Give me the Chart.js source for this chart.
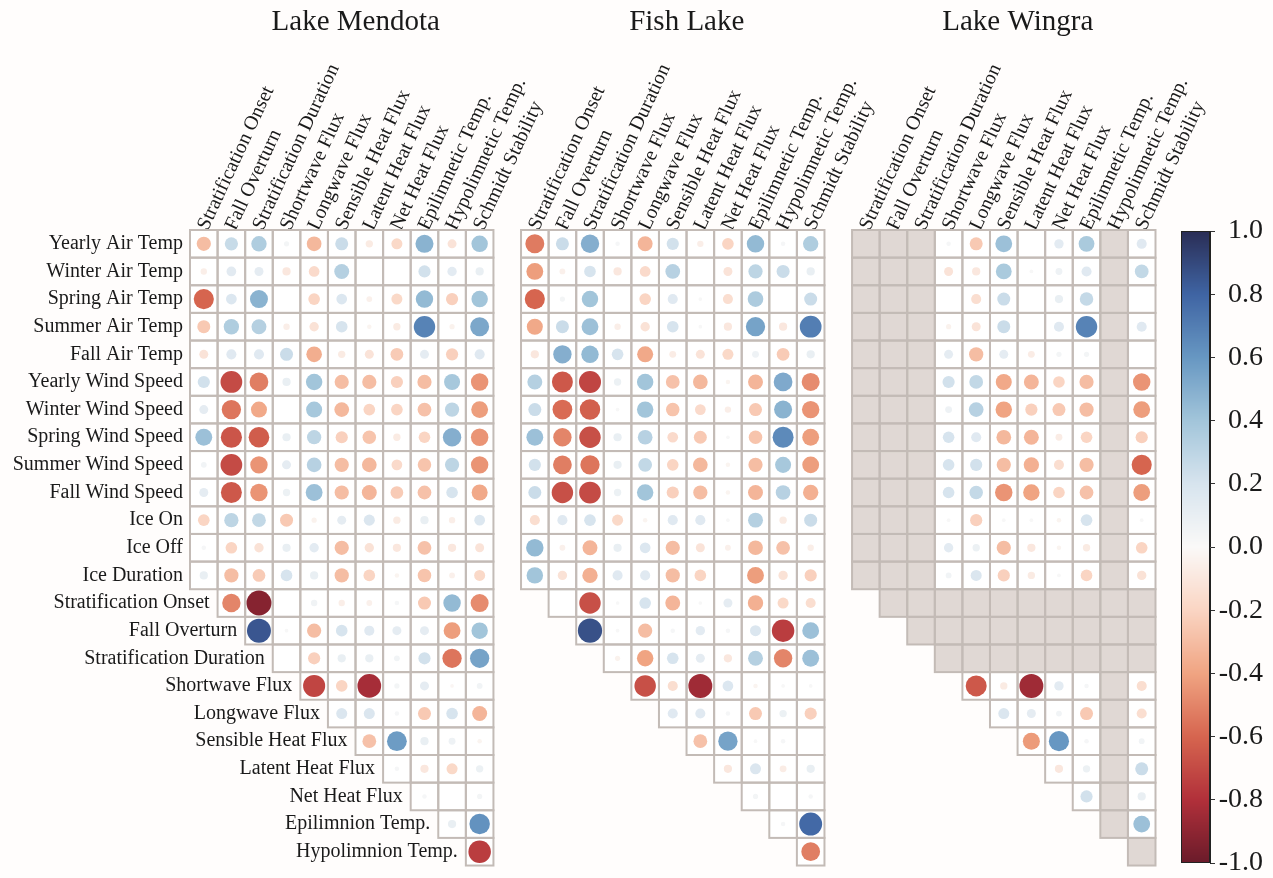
<!DOCTYPE html>
<html lang="en">
<head>
  <meta charset="UTF-8">
  <title>Lake correlation matrices</title>
  <script src="https://cdn.jsdelivr.net/npm/chart.js"></script>
  <style>
    html, body { margin: 0; padding: 0; background: #fffdfc; }
    #wrap { position: relative; width: 1273px; height: 878px; }
    #matrix { position: absolute; left: 0; top: 0; }
    #cbar { position: absolute; left: 1160px; top: 0; }
  </style>
</head>
<body>
  <div id="wrap">
    <canvas id="matrix" width="1273" height="878"></canvas>
    <canvas id="cbar" width="113" height="878"></canvas>
  </div>
  <script>
    const NA = 'NA'; // grey cell (no data for that lake)

    const lakeNames = ['Lake Mendota', 'Fish Lake', 'Lake Wingra'];
    const colLabels = ['Stratification Onset', 'Fall Overturn', 'Stratification Duration', 'Shortwave Flux',
      'Longwave Flux', 'Sensible Heat Flux', 'Latent Heat Flux', 'Net Heat Flux', 'Epilimnetic Temp.',
      'Hypolimnetic Temp.', 'Schmidt Stability'];
    const climateRows = ['Yearly Air Temp', 'Winter Air Temp', 'Spring Air Temp', 'Summer Air Temp', 'Fall Air Temp',
      'Yearly Wind Speed', 'Winter Wind Speed', 'Spring Wind Speed', 'Summer Wind Speed', 'Fall Wind Speed',
      'Ice On', 'Ice Off', 'Ice Duration'];
    const lakeRows = ['Stratification Onset', 'Fall Overturn', 'Stratification Duration', 'Shortwave Flux',
      'Longwave Flux', 'Sensible Heat Flux', 'Latent Heat Flux', 'Net Heat Flux', 'Epilimnion Temp.',
      'Hypolimnion Temp.'];

    // climate rows: all 11 columns; lake rows: only columns to the right of the diagonal
    const mendotaClimate = [
      [-0.30, 0.26, 0.35, 0.04, -0.32, 0.25, -0.08, -0.18, 0.48, -0.12, 0.40],
      [-0.06, 0.14, 0.12, -0.10, -0.17, 0.33, null, null, 0.22, 0.13, 0.10],
      [-0.60, 0.17, 0.48, null, -0.20, 0.17, -0.05, -0.18, 0.45, -0.22, 0.40],
      [-0.25, 0.35, 0.33, -0.06, -0.13, 0.20, -0.03, -0.08, 0.68, -0.04, 0.53],
      [-0.12, 0.15, 0.15, 0.25, -0.36, -0.08, -0.12, -0.24, 0.12, -0.22, 0.15],
      [0.22, -0.70, -0.52, 0.10, 0.40, -0.30, -0.30, -0.22, -0.30, 0.38, -0.45],
      [0.12, -0.55, -0.38, null, 0.38, -0.32, -0.20, -0.20, -0.28, 0.30, -0.42],
      [0.42, -0.66, -0.63, 0.10, 0.30, -0.22, -0.27, -0.08, -0.20, 0.50, -0.45],
      [0.05, -0.70, -0.45, 0.12, 0.32, -0.30, -0.32, -0.17, -0.27, 0.30, -0.45],
      [0.12, -0.65, -0.45, 0.08, 0.42, -0.30, -0.33, -0.24, -0.28, 0.20, -0.38],
      [-0.20, 0.30, 0.28, -0.25, -0.04, 0.12, 0.18, -0.08, 0.10, -0.06, 0.17],
      [0.03, -0.20, -0.13, 0.10, 0.13, -0.30, -0.13, -0.10, -0.28, -0.10, -0.12],
      [0.10, -0.30, -0.24, 0.20, 0.10, -0.30, -0.20, -0.03, -0.27, -0.05, -0.18]
    ];
    const mendotaLake = [
      [-0.50, -0.92, null, 0.06, -0.06, -0.05, 0.03, -0.25, 0.45, -0.48],
      [0.85, 0.02, -0.30, 0.20, 0.15, 0.12, 0.12, -0.42, 0.40],
      [null, -0.22, 0.10, 0.10, 0.05, 0.22, -0.55, 0.55],
      [-0.72, -0.20, -0.83, 0.04, 0.12, -0.02, 0.05],
      [0.18, 0.18, 0.03, -0.25, 0.20, -0.33],
      [-0.28, 0.58, 0.10, 0.07, -0.03],
      [0.03, -0.10, -0.18, 0.08],
      [0.03, null, 0.04],
      [0.10, 0.62],
      [-0.75]
    ];

    const fishClimate = [
      [-0.53, 0.25, 0.50, 0.03, -0.33, 0.22, -0.06, -0.20, 0.45, 0.03, 0.35],
      [-0.42, -0.05, 0.20, -0.10, -0.17, 0.32, null, -0.12, 0.30, 0.25, 0.10],
      [-0.60, 0.04, 0.40, null, -0.20, 0.15, 0.02, -0.15, 0.36, null, 0.25],
      [-0.38, 0.25, 0.42, -0.06, -0.13, 0.20, 0.02, -0.10, 0.55, -0.10, 0.70],
      [-0.10, 0.50, 0.45, 0.20, -0.38, -0.07, -0.12, -0.18, 0.07, -0.24, 0.10],
      [0.33, -0.65, -0.72, 0.08, 0.40, -0.28, -0.32, -0.03, -0.33, 0.52, -0.48],
      [0.25, -0.58, -0.62, 0.02, 0.40, -0.27, -0.17, -0.06, -0.25, 0.48, -0.45],
      [0.42, -0.50, -0.68, 0.10, 0.32, -0.17, -0.25, 0.02, -0.27, 0.65, -0.42],
      [0.22, -0.52, -0.55, 0.10, 0.28, -0.20, -0.32, -0.03, -0.30, 0.38, -0.42],
      [0.25, -0.68, -0.70, 0.08, 0.40, -0.22, -0.30, -0.03, -0.33, 0.32, -0.35],
      [-0.15, 0.15, 0.20, -0.18, -0.03, 0.15, 0.15, 0.02, 0.33, -0.08, 0.25],
      [0.45, -0.05, -0.33, 0.10, 0.17, -0.30, -0.12, -0.05, -0.32, -0.28, -0.06],
      [0.40, -0.13, -0.35, 0.15, 0.15, -0.30, -0.20, null, -0.42, -0.13, -0.22]
    ];
    const fishLake = [
      [null, -0.68, 0.02, 0.20, -0.33, 0.02, 0.12, -0.35, -0.18, -0.15],
      [0.87, 0.02, -0.30, 0.03, 0.13, 0.03, 0.18, -0.75, 0.42],
      [-0.04, -0.40, 0.20, 0.12, -0.10, 0.33, -0.50, 0.42],
      [-0.68, -0.15, -0.85, 0.17, -0.03, 0.02, 0.02],
      [0.15, 0.15, 0.03, -0.25, 0.08, -0.22],
      [-0.28, 0.55, 0.02, 0.03, null],
      [-0.10, 0.18, -0.07, 0.10],
      [0.04, null, 0.03],
      [0.03, 0.78],
      [-0.52]
    ];

    const wingraClimate = [
      [NA, NA, NA, 0.03, -0.25, 0.42, null, 0.13, 0.37, NA, 0.15],
      [NA, NA, NA, -0.12, -0.10, 0.37, 0.02, 0.07, 0.15, NA, 0.28],
      [NA, NA, NA, null, -0.15, 0.25, null, 0.10, 0.27, NA, null],
      [NA, NA, NA, -0.04, -0.12, 0.25, null, 0.15, 0.68, NA, 0.15],
      [NA, NA, NA, 0.12, -0.30, 0.12, -0.07, 0.04, 0.04, NA, null],
      [NA, NA, NA, 0.22, 0.28, -0.38, -0.33, -0.20, -0.30, NA, -0.45],
      [NA, NA, NA, 0.07, 0.32, -0.40, -0.22, -0.25, -0.30, NA, -0.42],
      [NA, NA, NA, 0.20, 0.15, -0.32, -0.33, -0.07, -0.20, NA, -0.22],
      [NA, NA, NA, 0.20, 0.22, -0.30, -0.35, -0.15, -0.30, NA, -0.60],
      [NA, NA, NA, 0.20, 0.27, -0.45, -0.40, -0.20, -0.28, NA, -0.42],
      [NA, NA, NA, 0.02, -0.22, 0.02, 0.02, -0.03, 0.20, NA, 0.02],
      [NA, NA, NA, 0.13, 0.08, -0.30, -0.10, -0.03, -0.08, NA, -0.20],
      [NA, NA, NA, 0.05, 0.18, -0.22, -0.08, 0.02, -0.20, NA, -0.13]
    ];
    const wingraLake = [
      [NA, NA, NA, NA, NA, NA, NA, NA, NA, NA],
      [NA, NA, NA, NA, NA, NA, NA, NA, NA],
      [NA, NA, NA, NA, NA, NA, NA, NA],
      [-0.65, -0.08, -0.85, 0.13, 0.03, NA, -0.15],
      [0.18, 0.12, 0.05, -0.25, NA, -0.15],
      [-0.43, 0.60, 0.03, NA, 0.05],
      [-0.10, 0.08, NA, 0.25],
      [0.22, NA, 0.10],
      [NA, 0.42],
      [NA]
    ];

    const lakes = [
      [mendotaClimate, mendotaLake],
      [fishClimate, fishLake],
      [wingraClimate, wingraLake]
    ];

    const serif = "'Liberation Serif', 'Times New Roman', serif";
    const SHIFT = 12; // each lake block starts 12 columns after the previous one

    // diverging red-white-blue palette, -1 .. 1
    const stops = [
      [-1.0, [106, 27, 42]], [-0.8, [177, 48, 58]], [-0.6, [214, 101, 79]], [-0.4, [240, 164, 130]],
      [-0.2, [250, 213, 195]], [0.0, [250, 249, 248]], [0.2, [215, 228, 238]], [0.4, [162, 197, 218]],
      [0.6, [103, 151, 194]], [0.8, [63, 100, 163]], [1.0, [42, 45, 85]]
    ];
    function rdbu(v) {
      v = Math.max(-1, Math.min(1, v));
      for (let i = 1; i < stops.length; i++) {
        if (v <= stops[i][0]) {
          const [v0, c0] = stops[i - 1], [v1, c1] = stops[i];
          const t = (v - v0) / (v1 - v0);
          const c = c0.map((a, k) => Math.round(a + (c1[k] - a) * t));
          return `rgb(${c[0]},${c[1]},${c[2]})`;
        }
      }
      return 'rgb(42,45,85)';
    }

    // every cell of one lake as [row, col, value]
    function cellsOf(clim, lake) {
      const out = [];
      clim.forEach((row, r) => row.forEach((v, c) => out.push([r, c, v])));
      lake.forEach((row, k) => row.forEach((v, j) => out.push([climateRows.length + k, k + 1 + j, v])));
      return out;
    }

    const points = [];
    lakes.forEach(([clim, lake], L) => {
      cellsOf(clim, lake).forEach(([r, c, v]) => {
        if (typeof v === 'number') {
          points.push({ x: L * SHIFT + c, y: r, r: 13 * Math.sqrt(Math.abs(v)), v: v });
        }
      });
    });

    const colTicks = [];
    lakes.forEach((_, L) => colLabels.forEach((_, c) => colTicks.push(L * SHIFT + c)));

    // cell grid, grey NA cells, staircase row labels and lake titles
    const gridPlugin = {
      id: 'gridCells',
      beforeDatasetsDraw(chart) {
        const { ctx, scales: { x, y } } = chart;
        const w = x.getPixelForValue(1) - x.getPixelForValue(0);
        const h = y.getPixelForValue(1) - y.getPixelForValue(0);
        ctx.save();
        lakes.forEach(([clim, lake], L) => {
          const cells = cellsOf(clim, lake);
          cells.forEach(([r, c, v]) => {
            ctx.fillStyle = v === NA ? '#e0d8d4' : '#ffffff';
            ctx.fillRect(x.getPixelForValue(L * SHIFT + c) - w / 2, y.getPixelForValue(r) - h / 2, w, h);
          });
          ctx.strokeStyle = '#c3bbb6';
          ctx.lineWidth = 2;
          cells.forEach(([r, c]) => {
            ctx.strokeRect(x.getPixelForValue(L * SHIFT + c) - w / 2, y.getPixelForValue(r) - h / 2, w, h);
          });

          ctx.fillStyle = '#1a1a1a';
          ctx.font = '29px ' + serif;
          ctx.textAlign = 'center';
          ctx.textBaseline = 'alphabetic';
          ctx.fillText(lakeNames[L], x.getPixelForValue(L * SHIFT + 5) + 14, 30);
        });

        ctx.font = '20px ' + serif;
        ctx.textAlign = 'right';
        ctx.textBaseline = 'middle';
        climateRows.forEach((lab, r) => {
          ctx.fillText(lab, x.getPixelForValue(0) - w / 2 - 7, y.getPixelForValue(r));
        });
        lakeRows.forEach((lab, k) => {
          ctx.fillText(lab, x.getPixelForValue(k + 1) - w / 2 - 8, y.getPixelForValue(climateRows.length + k));
        });
        ctx.restore();
      }
    };

    new Chart(document.getElementById('matrix'), {
      type: 'bubble',
      data: {
        datasets: [{
          data: points,
          backgroundColor: points.map(p => rdbu(p.v)),
          borderWidth: 0
        }]
      },
      options: {
        responsive: false,
        animation: false,
        layout: { padding: { left: 190, right: 117.5, top: 0, bottom: 11 } },
        plugins: { legend: { display: false }, tooltip: { enabled: false } },
        scales: {
          x: {
            type: 'linear',
            position: 'top',
            min: -0.5,
            max: 34.5,
            bounds: 'data',
            grid: { display: false, drawTicks: false },
            border: { display: false },
            afterBuildTicks: s => { s.ticks = colTicks.map(v => ({ value: v })); },
            afterFit: s => { s.height = 230; s.paddingLeft = 0; s.paddingRight = 0; },
            ticks: {
              autoSkip: false,
              minRotation: 65,
              maxRotation: 65,
              padding: -4,
              labelOffset: 21,
              font: { family: serif, size: 20 },
              color: '#1a1a1a',
              callback: v => colLabels[v % SHIFT]
            }
          },
          y: { type: 'linear', min: -0.5, max: 22.5, reverse: true, display: false }
        }
      },
      plugins: [gridPlugin]
    });

    // colour bar
    const barPlugin = {
      id: 'colorBar',
      beforeDatasetsDraw(chart) {
        const { ctx, chartArea: a, scales: { y } } = chart;
        ctx.save();
        for (let py = Math.floor(a.top); py < a.bottom; py++) {
          ctx.fillStyle = rdbu(y.getValueForPixel(py + 0.5));
          ctx.fillRect(a.left, py, a.right - a.left, 1);
        }
        ctx.strokeStyle = '#222';
        ctx.lineWidth = 1;
        ctx.strokeRect(a.left + 0.5, a.top + 0.5, a.right - a.left - 1, a.bottom - a.top - 1);
        ctx.restore();
      }
    };

    new Chart(document.getElementById('cbar'), {
      type: 'scatter',
      data: { datasets: [{ data: [] }] },
      options: {
        responsive: false,
        animation: false,
        layout: { padding: { left: 21, right: 10, top: 231, bottom: 15 } },
        plugins: { legend: { display: false }, tooltip: { enabled: false } },
        scales: {
          x: { display: false, min: 0, max: 1 },
          y: {
            position: 'right',
            min: -1,
            max: 1,
            afterFit: s => { s.width = 53; s.paddingTop = 0; s.paddingBottom = 0; },
            grid: { drawOnChartArea: false, tickLength: 5, color: '#333' },
            border: { color: '#222' },
            ticks: {
              stepSize: 0.2,
              padding: 2,
              crossAlign: 'far',
              font: { family: serif, size: 28 },
              color: '#1a1a1a',
              callback: v => (Math.abs(v) < 1e-9 ? 0 : v).toFixed(1)
            }
          }
        }
      },
      plugins: [barPlugin]
    });
  </script>
</body>
</html>
